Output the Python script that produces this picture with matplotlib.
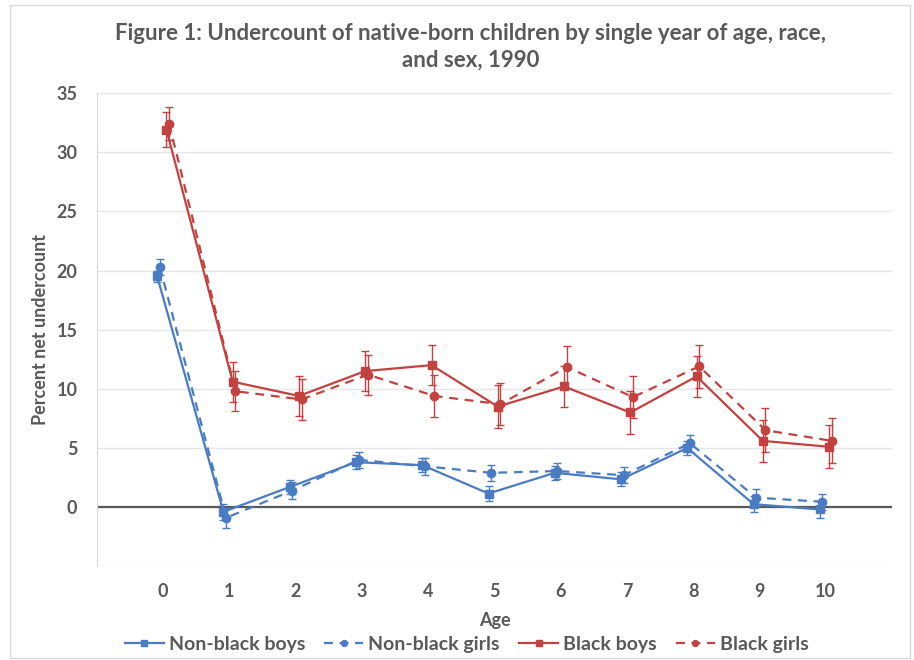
import matplotlib
matplotlib.use('Agg')

import matplotlib.pyplot as plt
import numpy as np
from matplotlib.patches import Rectangle

plt.rcParams.update({
    'font.family': ['Lato', 'DejaVu Sans'],
    'font.size': 12,
})

ages = [0, 1, 2, 3, 4, 5, 6, 7, 8, 9, 10]

nonblack_boys = [19.5, -0.4, 1.7, 3.8, 3.55, 1.15, 2.9, 2.35, 5.0, 0.25, -0.2]
nonblack_girls = [20.3, -0.9, 1.4, 4.0, 3.45, 2.9, 3.05, 2.7, 5.4, 0.8, 0.45]
black_boys = [31.9, 10.6, 9.4, 11.5, 12.0, 8.5, 10.2, 8.0, 11.05, 5.6, 5.1]
black_girls = [32.4, 9.8, 9.1, 11.2, 9.4, 8.7, 11.85, 9.3, 11.9, 6.5, 5.6]

nonblack_boys_err = [0.5, 0.7, 0.6, 0.6, 0.6, 0.6, 0.6, 0.6, 0.6, 0.7, 0.7]
nonblack_girls_err = [0.65, 0.85, 0.7, 0.7, 0.7, 0.7, 0.7, 0.7, 0.7, 0.7, 0.7]
black_boys_err = [1.5, 1.7, 1.7, 1.7, 1.7, 1.8, 1.7, 1.8, 1.7, 1.8, 1.8]
black_girls_err = [1.4, 1.7, 1.7, 1.7, 1.8, 1.8, 1.8, 1.8, 1.8, 1.85, 1.9]

blue = '#4a7cc4'
red = '#c3413f'
gray = '#595959'

series = [
    ('Non-black boys', nonblack_boys, nonblack_boys_err, blue, '-', 's', -0.09),
    ('Non-black girls', nonblack_girls, nonblack_girls_err, blue, '--', 'o', -0.05),
    ('Black boys', black_boys, black_boys_err, red, '-', 's', 0.05),
    ('Black girls', black_girls, black_girls_err, red, '--', 'o', 0.09),
]

fig = plt.figure(figsize=(9.14, 6.6), dpi=100)
ax = fig.add_axes([0.106, 0.142, 0.870, 0.717])

# chart border
fig.patches.append(Rectangle((0.011, 0.003), 0.985, 0.990, transform=fig.transFigure,
                             fill=False, edgecolor='#d9d9d9', linewidth=1.0))

x = np.array(ages, dtype=float)
for label, vals, err, color, ls, marker, off in series:
    ax.errorbar(x + off, vals, yerr=err, fmt='none', capsize=3, elinewidth=1.0,
                capthick=1.0, ecolor=color, zorder=3)
    ax.plot(x + off, vals, color=color, linestyle=ls, linewidth=1.6,
            marker=marker, markersize=6, label=label, zorder=4,
            dashes=(4, 3) if ls == '--' else (None, None))

ax.axhline(0, color=gray, linewidth=1.6, zorder=2)

ax.set_xlim(-1, 11)
ax.set_ylim(-5, 35)
ax.set_yticks(np.arange(-5, 36, 5))
ax.set_yticklabels([''] + [str(v) for v in range(0, 36, 5)])
ax.set_xticks(ages)
ax.set_xticklabels([str(a) for a in ages])
ax.tick_params(axis='both', length=0, labelsize=13, labelcolor=gray)
ax.tick_params(axis='x', pad=12)
ax.tick_params(axis='y', pad=14)
for lab in ax.get_xticklabels() + ax.get_yticklabels():
    lab.set_fontweight('bold')

ax.grid(axis='y', color='#e6e6e6', linewidth=1.0)
ax.set_axisbelow(True)
for s in ['top', 'right', 'bottom']:
    ax.spines[s].set_visible(False)
ax.spines['left'].set_color('#d9d9d9')

ax.set_xlabel('Age', fontsize=13, fontweight='bold', color=gray, labelpad=9)
ax.set_ylabel('Percent net undercount', fontsize=13, fontweight='bold', color=gray, labelpad=5)

fig.suptitle('Figure 1: Undercount of native-born children by single year of age, race,\nand sex, 1990',
             x=0.515, y=0.965, fontsize=16, fontweight='bold', color=gray, linespacing=1.35)

leg = ax.legend(loc='center', bbox_to_anchor=(0.465, -0.165), ncol=4, frameon=False,
                fontsize=14, handlelength=2.0, columnspacing=1.0, handletextpad=0.25,
                borderpad=0, borderaxespad=0, markerscale=0.7)
for t in leg.get_texts():
    t.set_color(gray)
    t.set_fontweight('bold')

fig.savefig('out.png', dpi=100)
